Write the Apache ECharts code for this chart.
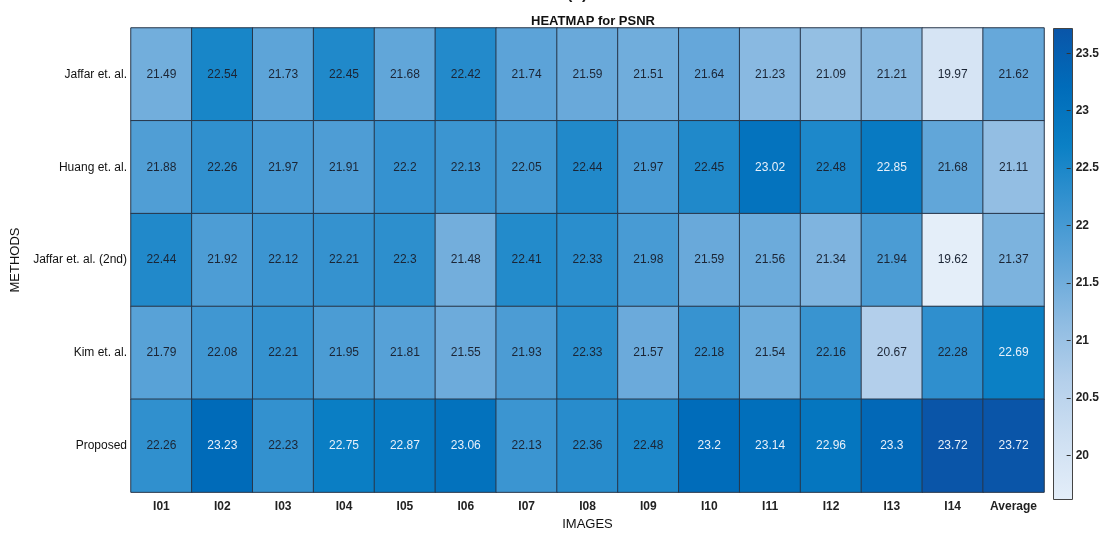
<!DOCTYPE html>
<html>
<head>
<meta charset="utf-8">
<script src="https://cdn.jsdelivr.net/npm/echarts@6/dist/echarts.min.js"></script>
<style>html,body{margin:0;padding:0;background:#fff;}#c{width:1102px;height:536px;}</style>
</head>
<body>
<div id="c"></div>
<script>
const images = ['I01','I02','I03','I04','I05','I06','I07','I08','I09','I10','I11','I12','I13','I14','Average'];
const methods = ['Jaffar et. al.','Huang et. al.','Jaffar et. al. (2nd)','Kim et. al.','Proposed'];
const jaffar   = [21.49,22.54,21.73,22.45,21.68,22.42,21.74,21.59,21.51,21.64,21.23,21.09,21.21,19.97,21.62];
const huang    = [21.88,22.26,21.97,21.91,22.2,22.13,22.05,22.44,21.97,22.45,23.02,22.48,22.85,21.68,21.11];
const jaffar2  = [22.44,21.92,22.12,22.21,22.3,21.48,22.41,22.33,21.98,21.59,21.56,21.34,21.94,19.62,21.37];
const kim      = [21.79,22.08,22.21,21.95,21.81,21.55,21.93,22.33,21.57,22.18,21.54,22.16,20.67,22.28,22.69];
const proposed = [22.26,23.23,22.23,22.75,22.87,23.06,22.13,22.36,22.48,23.2,23.14,22.96,23.3,23.72,23.72];
const colorbarTicks = [20,20.5,21,21.5,22,22.5,23,23.5];
const colorMin = 19.62, colorMax = 23.72;
const palette = ['#e4eef9','#cfe0f2','#b5d0eb','#8fbce2','#62a6d9','#3793d0','#0b80c5','#006cba','#0a55a8'];

const rows = [jaffar, huang, jaffar2, kim, proposed];
const data = [];
rows.forEach((r, yi) => r.forEach((v, xi) => {
  data.push({value: [xi, yi, v], label: {color: v > 22.6 ? '#e8f0fa' : '#1b2535'}});
}));

const chart = echarts.init(document.getElementById('c'));
const FONT = '"Liberation Sans", Arial, sans-serif';
chart.setOption({
  animation: false,
  textStyle: {fontFamily: FONT},
  title: {
    text: 'HEATMAP for PSNR', left: 588, top: 10, textAlign: 'center',
    textStyle: {fontSize: 13, fontWeight: 'bold', color: '#111', fontFamily: FONT}
  },
  graphic: [{
    type: 'text', left: 567, top: -13,
    style: {text: '(b)', fontSize: 16, fontWeight: 'bold', fill: '#222', fontFamily: FONT}
  }, {
    type: 'rect', left: 1053, top: 28, z: -1,
    shape: {width: 19, height: 471},
    style: {
      fill: {type: 'linear', x: 0, y: 1, x2: 0, y2: 0,
        colorStops: palette.map((c, i) => ({offset: i / (palette.length - 1), color: c}))},
      stroke: '#444', lineWidth: 1
    }
  }],
  grid: [
    {left: 131, top: 28, width: 913, height: 471},
    {left: 1053, top: 28, width: 19, height: 471, show: false}
  ],
  xAxis: [{
    type: 'category', data: images, gridIndex: 0,
    name: 'IMAGES', nameLocation: 'middle', nameGap: 22,
    nameTextStyle: {fontSize: 13, color: '#111', fontFamily: FONT},
    axisLine: {show: false}, axisTick: {show: false}, splitLine: {show: false},
    axisLabel: {interval: 0, fontSize: 12, fontWeight: 'bold', color: '#222', margin: 9, fontFamily: FONT}
  }, {
    type: 'value', gridIndex: 1, show: false, min: 0, max: 1
  }],
  yAxis: [{
    type: 'category', data: methods, gridIndex: 0, inverse: true,
    name: 'METHODS', nameLocation: 'middle', nameGap: 107, nameRotate: 90,
    nameTextStyle: {fontSize: 13, color: '#111', fontFamily: FONT},
    axisLine: {show: false}, axisTick: {show: false}, splitLine: {show: false},
    axisLabel: {interval: 0, fontSize: 12, color: '#111', margin: 4, fontFamily: FONT}
  }, {
    type: 'value', gridIndex: 1, position: 'right', min: colorMin, max: colorMax, z: 50,
    axisLine: {show: false, onZero: false}, splitLine: {show: false},
    axisTick: {show: true, inside: true, length: 4, lineStyle: {color: '#333'}, customValues: colorbarTicks},
    axisLabel: {fontSize: 12, fontWeight: 'bold', color: '#222', margin: 5, fontFamily: FONT,
      customValues: colorbarTicks, formatter: v => String(v)}
  }],
  visualMap: {
    type: 'continuous', min: colorMin, max: colorMax, seriesIndex: 0, show: false,
    inRange: {color: palette}
  },
  series: [{
    type: 'heatmap', xAxisIndex: 0, yAxisIndex: 0, data: data,
    label: {show: true, fontSize: 12, fontFamily: FONT, formatter: p => String(p.value[2])},
    itemStyle: {borderColor: '#27364a', borderWidth: 1}
  }]
});
</script>
</body>
</html>
